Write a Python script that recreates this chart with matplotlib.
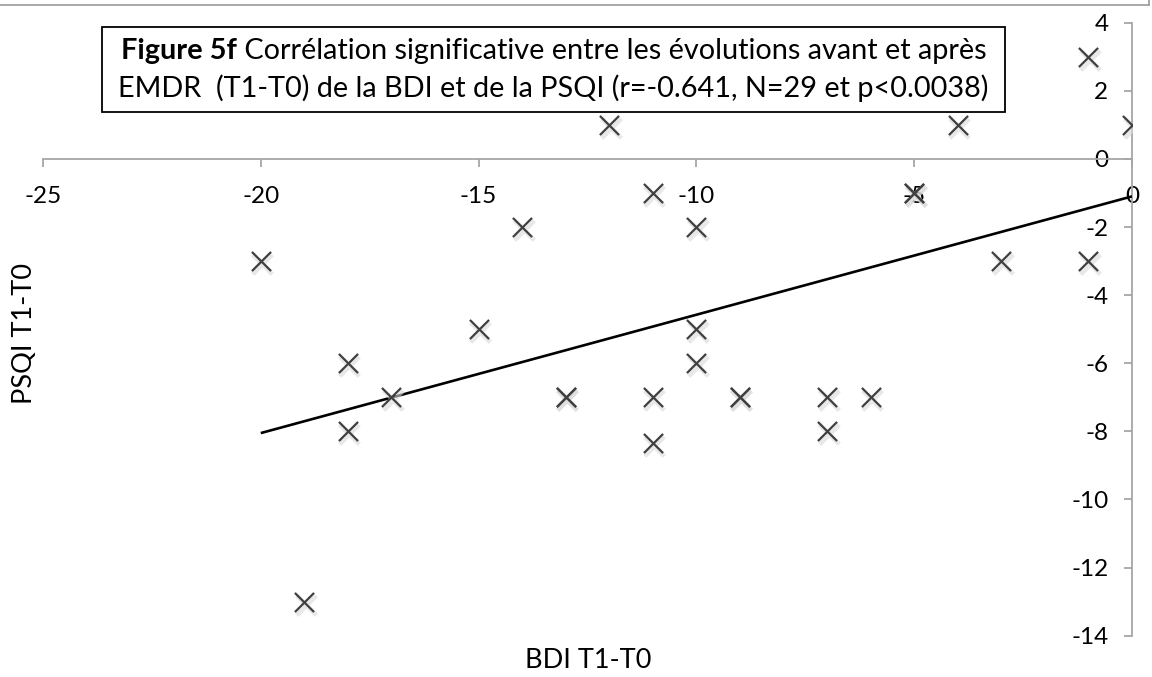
import matplotlib
matplotlib.use("Agg")
import matplotlib.pyplot as plt
from matplotlib.patches import Rectangle
from matplotlib.lines import Line2D
import matplotlib.transforms as mtransforms

plt.rcParams['font.family'] = ['Lato', 'DejaVu Sans']

# Data
bdi = [-20, -19, -18, -18, -17, -15, -14, -13, -13, -12, -11, -11, -11, -10,
       -10, -10, -9, -9, -7, -7, -6, -5, -5, -4, -3, -1, -1, 0]
psqi = [-3, -13, -6, -8, -7, -5, -2, -7, -7, 1, -1, -7, -8.33, -2,
        -5, -6, -7, -7, -7, -8, -7, -1, -1, 1, -3, 3, -3, 1]
trend_x = [-20, 0]
trend_y = [-8.05, -1.1]
x_ticks = [-25, -20, -15, -10, -5, 0]
y_ticks = [-14, -12, -10, -8, -6, -4, -2, 0, 2, 4]
title_bold = "Figure 5f"
title_rest = " Corrélation significative entre les évolutions avant et après"
title_line2 = "EMDR  (T1-T0) de la BDI et de la PSQI (r=-0.641, N=29 et p<0.0038)"
xlabel = "BDI T1-T0"
ylabel = "PSQI T1-T0"

W, H = 1152, 677
fig = plt.figure(figsize=(W / 100, H / 100), dpi=100)
ax = fig.add_axes([43 / W, 1 - 635.7 / H, 1089 / W, 613 / H])
ax.set_xlim(-25, 0)
ax.set_ylim(-14, 4)

axis_color = '#a6a6a6'
for s in ['top', 'right']:
    ax.spines[s].set_visible(False)
ax.spines['bottom'].set_position(('data', 0))
ax.spines['left'].set_position(('data', 0))
for s in ['bottom', 'left']:
    ax.spines[s].set_color(axis_color)
    ax.spines[s].set_linewidth(1.3)

ax.set_xticks(x_ticks)
ax.set_xticklabels([str(v) for v in x_ticks])
ax.set_yticks(y_ticks)
ax.set_yticklabels([str(v) for v in y_ticks])
ax.tick_params(axis='x', direction='out', length=5.5, width=1.3, color=axis_color,
               pad=14, labelsize=17.5, labelcolor='black')
ax.tick_params(axis='y', direction='out', length=6, width=1.3, color=axis_color,
               pad=11, labelsize=17.5, labelcolor='black')
for lab in ax.get_xticklabels() + ax.get_yticklabels():
    lab.set_zorder(1)

# trend line
ax.plot(trend_x, trend_y, color='black', lw=1.9, zorder=3, solid_capstyle='butt')

# marker shadow
shadow_tr = mtransforms.offset_copy(ax.transData, fig=fig, x=1.5, y=-3, units='dots')
ax.scatter(bdi, psqi, marker='x', s=200, linewidths=3.2, color='#d9d9d9',
           alpha=0.6, transform=shadow_tr, zorder=3.5)
ax.scatter(bdi, psqi, marker='x', s=190, linewidths=1.6, color='#404040', zorder=4)

# axis labels
fig.text(588 / W, 1 - 660 / H, xlabel, ha='center', va='center', fontsize=19.5)
fig.text(24 / W, 1 - 334 / H, ylabel, ha='center', va='center', fontsize=19.5,
         rotation=90)

# title box
box = Rectangle((102 / W, 1 - 112 / H), (1005 - 102) / W, (112 - 27) / H,
                transform=fig.transFigure, facecolor='white', edgecolor='black',
                lw=1.3, zorder=10)
fig.add_artist(box)
cx = (102 + 1005) / 2 / W
tfs = 20.8
tb = fig.text(0, 1 - 51 / H, title_bold, fontsize=tfs, fontweight='bold',
              va='center', ha='left', zorder=11)
tr = fig.text(0, 1 - 51 / H, title_rest, fontsize=tfs, va='center', ha='left', zorder=11)
fig.text(cx, 1 - 88 / H, title_line2, fontsize=tfs, va='center', ha='center', zorder=11)
fig.canvas.draw()
r = fig.canvas.get_renderer()
wb = tb.get_window_extent(r).width
wr = tr.get_window_extent(r).width
x0 = cx * W - (wb + wr) / 2
tb.set_x(x0 / W)
tr.set_x((x0 + wb) / W)

# top border of the frame
fig.add_artist(Line2D([0, 1149 / W], [1 - 4.5 / H, 1 - 4.5 / H],
                      transform=fig.transFigure, color='#a0a0a0', lw=1.3))
fig.add_artist(Line2D([1149 / W, 1149 / W], [1, 1 - 4.5 / H],
                      transform=fig.transFigure, color='#a0a0a0', lw=1.3))

fig.savefig("out.png", dpi=100, facecolor='white')
